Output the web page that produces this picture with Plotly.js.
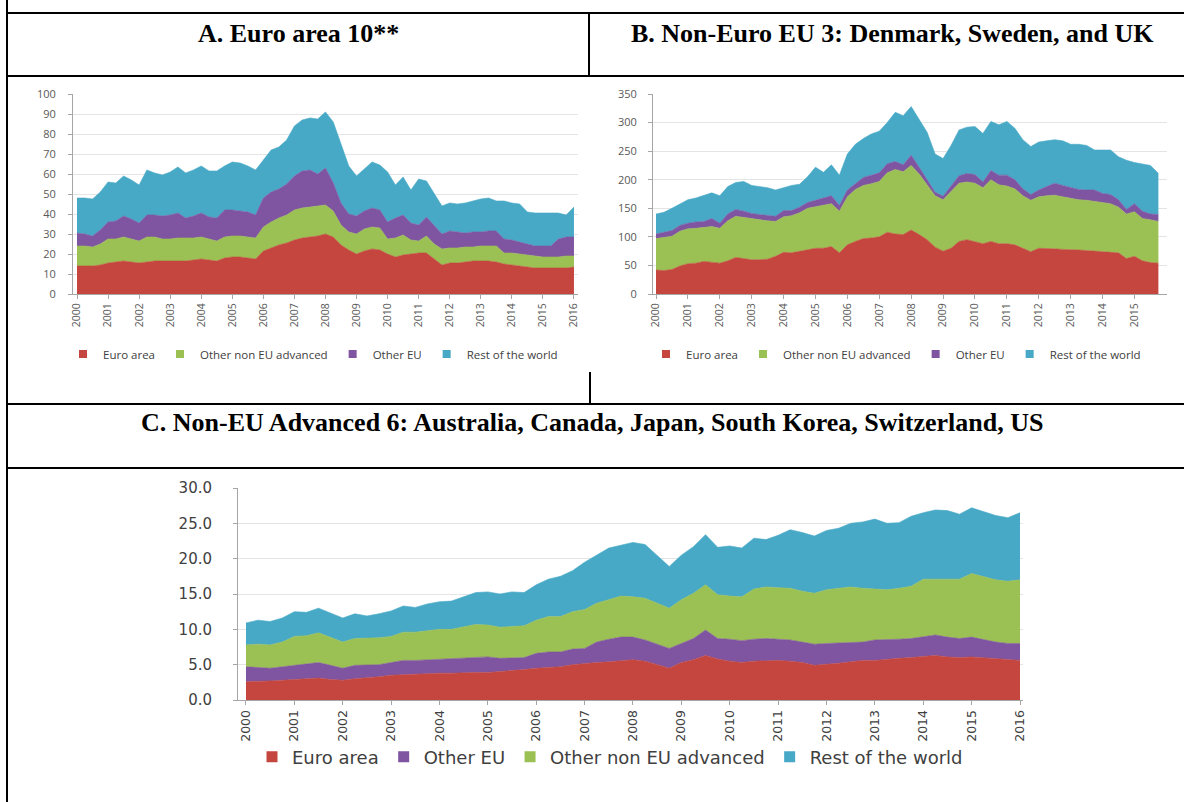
<!DOCTYPE html>
<html><head><meta charset="utf-8">
<script src="https://cdn.plot.ly/plotly-3.0.1.min.js"></script>
<style>html,body{margin:0;padding:0;background:#fff;overflow:hidden;} #chart{width:1184px;height:802px;}</style>
</head><body><div id="chart"></div>
<script>
// ---------------- DATA ----------------
const yearsAC = [2000,2001,2002,2003,2004,2005,2006,2007,2008,2009,2010,2011,2012,2013,2014,2015,2016];
const yearsB  = [2000,2001,2002,2003,2004,2005,2006,2007,2008,2009,2010,2011,2012,2013,2014,2015];

const seriesNamesAB = ["Euro area", "Other non EU advanced", "Other EU", "Rest of the world"];
const seriesNamesC  = ["Euro area", "Other EU", "Other non EU advanced", "Rest of the world"];

// Panel A: Euro area 10 (quarterly 2000Q1 - 2016Q1)
const aEuro = [14,14,14,14.5,15.5,16,16.5,16,15.5,16,16.5,16.5,16.5,16.5,16.5,17,17.5,17,16.5,18,18.5,18.5,18,17.5,21.5,23,24.5,25.5,27,28,28.5,29,30,28.5,24.5,22,20,21.5,22.5,22,20,18.5,19.5,20,20.5,20.5,17.5,14.5,15.5,15.5,16,16.5,16.5,16.5,16,15,14.5,14,13.5,13,13,13,13,13,13.5];
const aNonEuAdv = [10,10,9.5,10.5,12,11.5,12,11.5,11,12.5,12,11,11,11.5,11.5,11,11,10.5,10,10.5,10.5,10.5,10.5,10.5,12,13,13.5,14,15,15,15,15,14.5,13,10,9,10,11,11,11,7.5,9.5,10,7,6,8.5,7.5,8,7.5,7.5,7.5,7,7.5,7.5,8,5.5,6,6,6,6,5.5,5.5,5.5,6,5.5];
const aOtherEU = [6.5,6,5.5,7,8.5,9,10.5,10,9,11,11,11.5,12,12.5,10,11,12,11,11.5,13.5,13,12.5,12.5,11.5,14.5,15,14.5,15.5,17,18.5,18.5,16,18.5,14,11,9,9,9,9.5,9,8.5,10,10,8.5,8,9.5,9,7.5,8.5,8,7,7.5,7,7.5,7.5,7,6.5,6,5.5,5,5.5,5.5,9,9.5,9.5];
const aRest = [17.5,18,18.5,19,20,19,20,19.5,19,22.5,21,20.5,21.5,23,22.5,23,23.5,23,23.5,22,24,24,23,22.5,19,21,21,22,25,25.5,26,27.5,28,30.5,29.5,24,20,21,23,22.5,25,16.5,19,16.5,23,18,16,14,14,14,15,15.5,16.5,16.5,15,19,18.5,19,16,16.5,16.5,16.5,13,11,15];

// Panel B: Denmark, Sweden, UK (quarterly 2000Q1 - 2015Q4)
const bEuro = [42,41,43,49,53,54,57,55,54,58,64,62,60,60,61,66,73,72,75,78,80,80,83,72,86,92,97,98,100,108,105,104,112,104,95,82,75,80,92,95,92,88,92,88,88,86,80,74,80,80,79,78,78,77,76,75,75,74,72,62,66,58,55,54];
const bNonEuAdv = [55,58,58,61,61,61,59,63,61,70,72,72,71,69,67,61,62,65,67,72,73,76,75,73,84,91,93,95,97,104,113,110,113,106,95,90,90,100,102,101,102,98,108,103,101,98,92,90,90,92,94,92,89,88,88,87,85,84,80,78,78,74,75,73];
const bOtherEU = [8,9,10,10,10,11,11,14,9,12,12,11,10,10,10,9,11,9,10,10,11,12,14,10,12,10,14,15,15,16,14,12,18,12,10,6,6,10,13,15,15,10,16,17,19,16,12,10,12,16,21,20,19,18,18,20,16,16,13,8,14,13,10,12];
const bRest = [35,35,39,37,41,42,45,45,48,48,47,52,49,49,48,46,40,44,40,45,58,45,54,53,63,69,68,72,73,72,86,86,85,83,83,67,66,70,80,81,84,85,86,88,94,90,86,84,84,80,76,78,76,79,78,70,76,78,75,86,72,83,85,72];

// Panel C: Non-EU advanced 6 (quarterly 2000Q1 - 2016Q1)
const cEuro = [2.6,2.6,2.7,2.8,2.9,3.0,3.1,2.9,2.8,3.0,3.1,3.3,3.5,3.6,3.7,3.8,3.8,3.8,3.9,3.9,3.9,4.0,4.1,4.3,4.5,4.6,4.7,5.0,5.2,5.3,5.4,5.5,5.7,5.5,5.0,4.5,5.3,5.7,6.3,5.8,5.5,5.3,5.5,5.6,5.6,5.5,5.3,4.9,5.0,5.2,5.4,5.6,5.6,5.8,5.9,6.0,6.2,6.3,6.1,6.0,6.1,6.0,5.9,5.7,5.6];
const cOtherEU = [2.1,2.0,1.8,1.9,2.0,2.1,2.2,2.0,1.7,1.9,1.8,1.7,1.8,2.0,1.9,1.9,2.0,2.1,2.1,2.2,2.2,1.9,1.8,1.7,2.1,2.2,2.1,2.2,2.1,2.9,3.2,3.4,3.2,3.0,2.9,2.8,2.7,3.0,3.6,2.9,3.1,3.1,3.1,3.1,3.0,3.0,2.9,3.0,3.0,2.9,2.8,2.6,2.9,2.7,2.7,2.7,2.8,2.9,2.8,2.7,2.8,2.5,2.3,2.3,2.4];
const cNonEuAdv = [3.1,3.3,3.3,3.5,4.1,4.0,4.2,4.0,3.7,3.8,3.8,3.8,3.7,4.0,4.0,4.1,4.2,4.1,4.4,4.6,4.5,4.4,4.5,4.5,4.7,5.0,5.0,5.3,5.5,5.5,5.6,5.8,5.7,5.9,5.8,5.7,6.2,6.4,6.4,6.2,6.1,6.2,7.1,7.3,7.3,7.3,7.2,7.2,7.6,7.7,7.8,7.6,7.2,7.1,7.2,7.4,8.1,7.9,8.1,8.4,9.0,9.0,8.8,8.8,9.0];
const cRest = [3.1,3.4,3.3,3.4,3.5,3.3,3.5,3.4,3.4,3.5,3.2,3.4,3.6,3.7,3.5,3.8,3.9,4.0,4.2,4.5,4.7,4.7,4.9,4.7,5.0,5.3,5.7,5.8,6.7,6.8,7.3,7.2,7.7,7.6,6.8,5.9,6.3,6.6,7.1,6.7,7.1,6.9,7.2,6.7,7.4,8.3,8.3,8.1,8.4,8.5,9.0,9.4,9.9,9.4,9.3,9.9,9.4,9.8,9.8,9.2,9.3,9.2,9.1,9.0,9.5];

const panelTitles = [
  "A. Euro area 10**",
  "B. Non-Euro EU 3: Denmark, Sweden, and UK",
  "C. Non-EU Advanced 6: Australia, Canada, Japan, South Korea, Switzerland, US"
];

// ---------------- STYLE ----------------
const COL = {euro:'#C4463E', nonEuAdv:'#9BC053', otherEU:'#7F54A0', rest:'#47A9C6'};
const W = 1184, H = 802;
const px = v => v / W;
const py = v => 1 - v / H;

// quarter positions (2000Q1 = 2000.00, step one quarter)
function quarterX(n){ const xs=[]; for(let i=0;i<n;i++) xs.push(yearsAC[0] + i/4); return xs; }

function areaTrace(x, y, color, group, xa, ya, name){
  return {x, y, name, type:'scatter', mode:'lines', stackgroup:group,
    line:{width:0.6, color:color, shape:'linear'}, fillcolor:color,
    xaxis:xa, yaxis:ya, showlegend:false, hoverinfo:'skip'};
}
function legendTrace(name, color, leg, xa, ya, size){
  return {x:[null], y:[null], name, type:'scatter', mode:'markers',
    marker:{symbol:'square', size:size, color:color}, legend:leg,
    xaxis:xa, yaxis:ya, showlegend:true, hoverinfo:'skip'};
}

const xA = quarterX(aEuro.length), xB = quarterX(bEuro.length), xC = quarterX(cEuro.length);

const data = [
  areaTrace(xA, aEuro, COL.euro, 'A', 'x', 'y', seriesNamesAB[0]),
  areaTrace(xA, aNonEuAdv, COL.nonEuAdv, 'A', 'x', 'y', seriesNamesAB[1]),
  areaTrace(xA, aOtherEU, COL.otherEU, 'A', 'x', 'y', seriesNamesAB[2]),
  areaTrace(xA, aRest, COL.rest, 'A', 'x', 'y', seriesNamesAB[3]),
  areaTrace(xB, bEuro, COL.euro, 'B', 'x2', 'y2', seriesNamesAB[0]),
  areaTrace(xB, bNonEuAdv, COL.nonEuAdv, 'B', 'x2', 'y2', seriesNamesAB[1]),
  areaTrace(xB, bOtherEU, COL.otherEU, 'B', 'x2', 'y2', seriesNamesAB[2]),
  areaTrace(xB, bRest, COL.rest, 'B', 'x2', 'y2', seriesNamesAB[3]),
  areaTrace(xC, cEuro, COL.euro, 'C', 'x3', 'y3', seriesNamesC[0]),
  areaTrace(xC, cOtherEU, COL.otherEU, 'C', 'x3', 'y3', seriesNamesC[1]),
  areaTrace(xC, cNonEuAdv, COL.nonEuAdv, 'C', 'x3', 'y3', seriesNamesC[2]),
  areaTrace(xC, cRest, COL.rest, 'C', 'x3', 'y3', seriesNamesC[3]),
];
const colAB = [COL.euro, COL.nonEuAdv, COL.otherEU, COL.rest];
const colC  = [COL.euro, COL.otherEU, COL.nonEuAdv, COL.rest];
seriesNamesAB.forEach((n,i)=>data.push(legendTrace(n, colAB[i], 'legend', 'x', 'y', 8)));
seriesNamesAB.forEach((n,i)=>data.push(legendTrace(n, colAB[i], 'legend2', 'x2', 'y2', 8)));
seriesNamesC.forEach((n,i)=>data.push(legendTrace(n, colC[i], 'legend3', 'x3', 'y3', 11)));

const abTick = {family:'Open Sans, sans-serif', size:10.5, color:'#595959'};
const cTick = {family:'DejaVu Sans, sans-serif', size:15, color:'#404040'};

function xAxis(domain, range, years, font, anchor){
  return {domain, range, tickmode:'array', tickvals:years, ticktext:years.map(String),
    tickangle:-90, tickfont:font, ticks:'outside', ticklen:4, tickcolor:'#a6a6a6',
    showline:true, linecolor:'#a6a6a6', linewidth:1, showgrid:false, zeroline:false,
    anchor, fixedrange:true, automargin:false};
}
function yAxis(domain, range, dtick, font, anchor, fmt, standoff){
  return {domain, range, dtick, tickformat:fmt, tickfont:font, ticks:'outside', ticklen:4,
    tickcolor:'#a6a6a6', showline:true, linecolor:'#a6a6a6', linewidth:1,
    showgrid:true, gridcolor:'#e4e4e4', gridwidth:1, zeroline:false, anchor,
    fixedrange:true, automargin:false, ticklabelstandoff:standoff};
}

const lineStyle = {color:'#000', width:2};
function hline(x0,x1,y){ return {type:'line', xref:'paper', yref:'paper', x0:px(x0), x1:px(x1), y0:py(y), y1:py(y), line:lineStyle}; }
function vline(x,y0,y1){ return {type:'line', xref:'paper', yref:'paper', x0:px(x), x1:px(x), y0:py(y0), y1:py(y1), line:lineStyle}; }

const titleFont = {family:'Liberation Serif, Times New Roman, serif', size:26, color:'#000'};
function titleAnn(text, x, y){
  return {text:'<b>'+text+'</b>', x:px(x), y:py(y), xref:'paper', yref:'paper',
    xanchor:'center', yanchor:'middle', showarrow:false, font:titleFont};
}

const legAB = {family:'Open Sans, sans-serif', size:11.5, color:'#404040'};
const layout = {
  width:W, height:H, margin:{l:0,r:0,t:0,b:0}, paper_bgcolor:'#fff', plot_bgcolor:'rgba(0,0,0,0)',
  showlegend:true,
  xaxis: xAxis([px(73),px(578)], [1999.871, 2016.13], yearsAC, abTick, 'y'),
  yaxis: yAxis([py(294),py(94)], [0,100], 10, Object.assign({}, abTick, {size:11}), 'x', '', 10),
  xaxis2: xAxis([px(653),px(1167)], [1999.906, 2016.02], yearsB, abTick, 'y2'),
  yaxis2: yAxis([py(294),py(94)], [0,350], 50, Object.assign({}, abTick, {size:11}), 'x2', '', 9),
  xaxis3: xAxis([px(238),px(1023)], [1999.835, 2016.062], yearsAC, Object.assign({}, cTick, {size:12.5}), 'y3'),
  yaxis3: yAxis([py(700),py(488)], [0,30], 5, cTick, 'x3', '.1f', 18),
  legend: {x:px(313), y:py(354), xanchor:'center', yanchor:'middle', orientation:'h',
    font:legAB, itemwidth:30, bgcolor:'rgba(0,0,0,0)', traceorder:'normal'},
  legend2: {x:px(896), y:py(354), xanchor:'center', yanchor:'middle', orientation:'h',
    font:legAB, itemwidth:30, bgcolor:'rgba(0,0,0,0)', traceorder:'normal'},
  legend3: {x:px(610), y:py(757), xanchor:'center', yanchor:'middle', orientation:'h',
    font:{family:'DejaVu Sans, sans-serif', size:18, color:'#404040'}, itemwidth:30,
    bgcolor:'rgba(0,0,0,0)', traceorder:'normal'},
  shapes: [
    vline(7, 0, 802),
    hline(7, 1184, 13),
    hline(7, 1184, 76),
    vline(589, 13, 76),
    vline(590, 372, 404),
    hline(7, 1184, 404),
    hline(7, 1184, 468)
  ],
  annotations: [
    titleAnn(panelTitles[0], 298, 33),
    titleAnn(panelTitles[1], 892, 33),
    titleAnn(panelTitles[2], 592, 422)
  ]
};

Plotly.newPlot('chart', data, layout, {displayModeBar:false, staticPlot:true});
</script></body></html>
